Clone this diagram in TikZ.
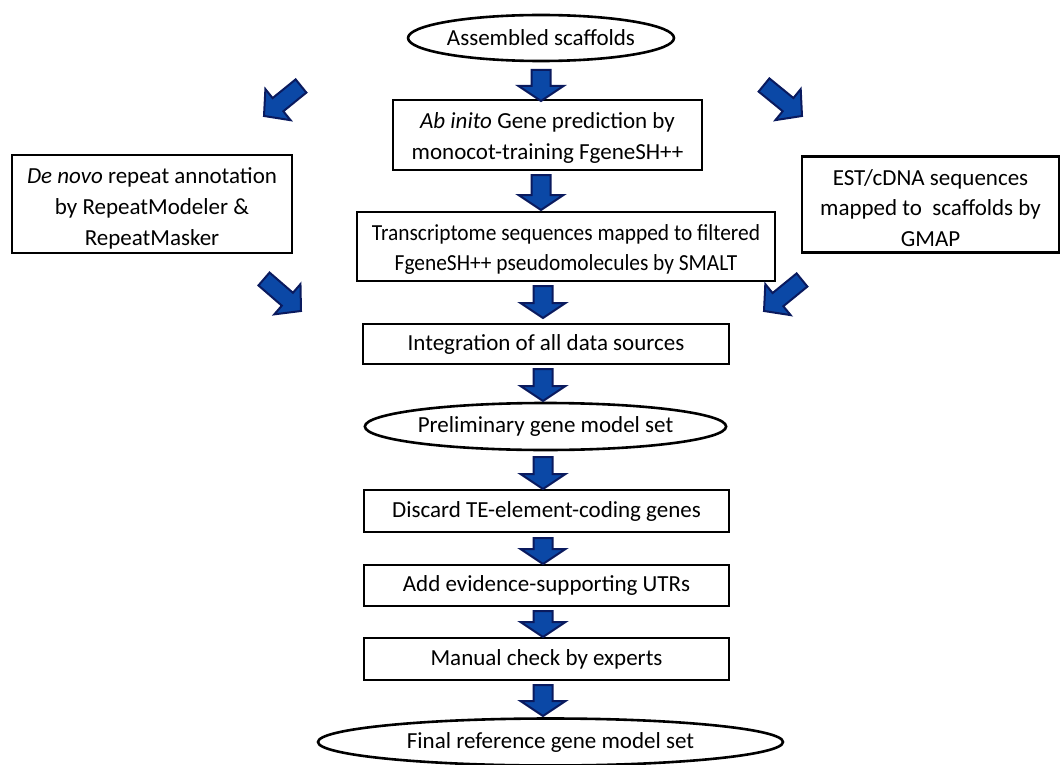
\documentclass[tikz,border=0pt]{standalone}
\usepackage{fontspec}
\setmainfont{Carlito}
\newfontfamily\condfont[FakeStretch=0.93]{Carlito}
\usetikzlibrary{calc,shapes.geometric}
\definecolor{afill}{HTML}{0B48A6}
\definecolor{aline}{HTML}{0A1A5E}
\tikzset{
  txt/.style={font=\fontsize{23}{31}\selectfont, text=black, align=center, inner sep=0pt},
  frame/.style={draw=black, line width=2.6pt, inner sep=0pt},
  box/.style={txt, frame},
  oval/.style={txt, frame, ellipse},
  barrow/.style={fill=afill, draw=aline, line width=2pt, line join=miter},
}
% block arrow: tail, tip, shaft half width, head half width, head length
\newcommand\blockarr[5]{%
  \coordinate (ab) at ($(#2)!#5!(#1)$);
  \filldraw[barrow] ($(#1)!#3!90:(#2)$) -- ($(ab)!#3!90:(#2)$) -- ($(ab)!#4!90:(#2)$)
    -- (#2) -- ($(ab)!#4!-90:(#2)$) -- ($(ab)!#3!-90:(#2)$) -- ($(#1)!#3!-90:(#2)$) -- cycle;
}
\begin{document}
\begin{tikzpicture}[x=1pt,y=-1pt]
\useasboundingbox (0,0) rectangle (1062,765);

% single-line nodes
\node[oval, minimum width=262pt, minimum height=46pt] (e1) at (541,38) {Assembled scaffolds};
\node[box, minimum width=366pt, minimum height=40pt] (b3) at (546,344) {Integration of all data sources};
\node[oval, minimum width=331pt, minimum height=47pt] (e2) at (545.5,426.5) {Preliminary gene model set};
\node[box, minimum width=365pt, minimum height=42pt] (b4) at (546.5,511) {Discard TE-element-coding genes};
\node[box, minimum width=365pt, minimum height=41pt] (b5) at (546.5,585.5) {Add evidence-supporting UTRs};
\node[box, minimum width=365pt, minimum height=42pt] (b6) at (546.5,659) {Manual check by experts};
\node[oval, minimum width=465pt, minimum height=47pt] (e3) at (550.5,742) {Final reference gene model set};

% multi-line boxes: frame + text
\node[frame, minimum width=309pt, minimum height=70pt] (b1) at (547.5,135) {};
\node[txt] (b1t) at ($(b1)+(0,2.5)$) {\textit{Ab inito} Gene prediction by\\monocot-training FgeneSH++};
\node[frame, minimum width=418pt, minimum height=69pt] (b2) at (566,246.5) {};
\node[txt, font=\condfont\fontsize{23}{30}\selectfont] (b2t) at ($(b2)+(0,3)$) {Transcriptome sequences mapped to filtered\\FgeneSH++ pseudomolecules by SMALT};
\node[frame, minimum width=280pt, minimum height=98pt] (lb) at (152,204) {};
\node[txt] (lbt) at ($(lb)+(0,4.5)$) {\textit{De novo} repeat annotation\\by RepeatModeler \&\\RepeatMasker};
\node[frame, minimum width=257pt, minimum height=96pt] (rb) at (930.5,204.5) {};
\node[txt, font=\fontsize{23}{30.5}\selectfont] (rbt) at ($(rb)+(0,3.5)$) {EST/cDNA sequences\\mapped to\ \ scaffolds by\\GMAP};

% arrow end points
\coordinate (a1s) at (541,70);  \coordinate (a1e) at (541,101);
\coordinate (a2s) at (541,175); \coordinate (a2e) at (541,210);
\coordinate (a3s) at (543,286); \coordinate (a3e) at (543,318);
\coordinate (a4s) at (543,369); \coordinate (a4e) at (543,401);
\coordinate (a5s) at (543,457); \coordinate (a5e) at (543,489);
\coordinate (a6s) at (543,538); \coordinate (a6e) at (543,564);
\coordinate (a7s) at (543,611); \coordinate (a7e) at (543,637);
\coordinate (a8s) at (543,685); \coordinate (a8e) at (543,716);

\coordinate (tls) at (301,86);  \coordinate (tle) at (264,116);
\coordinate (trs) at (764,85);  \coordinate (tre) at (802,116);
\coordinate (bls) at (264,279); \coordinate (ble) at (301,311);
\coordinate (brs) at (802,280); \coordinate (bre) at (764,311);

% vertical block arrows
\foreach \i in {1,...,8}{\blockarr{a\i s}{a\i e}{9.5pt}{22.5pt}{15pt}}
% diagonal block arrows
\blockarr{tls}{tle}{8.5pt}{20pt}{18pt}
\blockarr{trs}{tre}{8.5pt}{20pt}{18pt}
\blockarr{bls}{ble}{8.5pt}{20pt}{18pt}
\blockarr{brs}{bre}{8.5pt}{20pt}{18pt}
\end{tikzpicture}
\end{document}
